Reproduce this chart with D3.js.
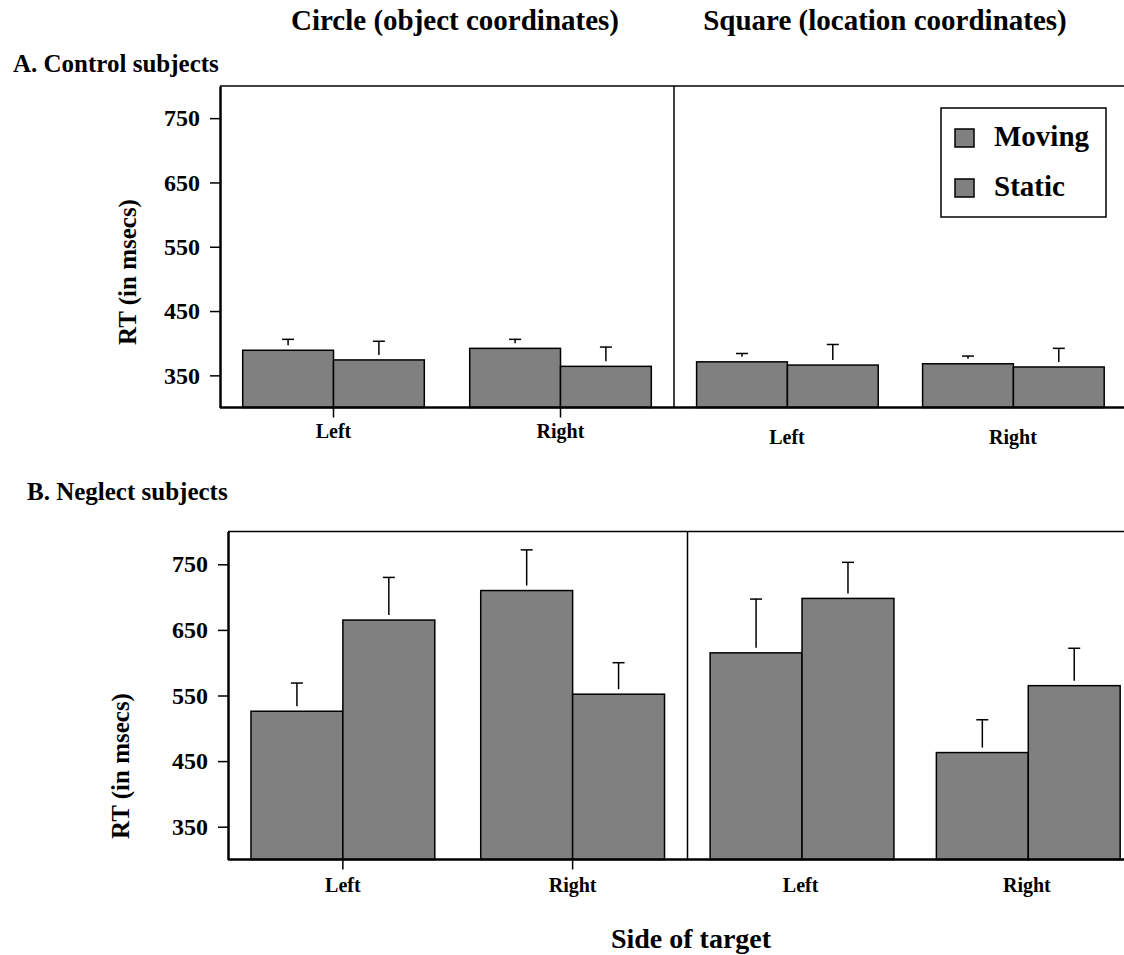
<!DOCTYPE html>
<html>
<head>
<meta charset="utf-8">
<script src="https://cdn.jsdelivr.net/npm/d3@7"></script>
<style>
  body { margin: 0; background: #fff; }
  text { font-family: "Liberation Serif", "Times New Roman", serif; font-weight: bold; fill: #000; }
</style>
</head>
<body>
<div id="chart"></div>
<script>
// data
var sides = ["Left", "Right"];
var conditions = ["Moving", "Static"];
var frames = ["Circle (object coordinates)", "Square (location coordinates)"];
var yTicks = [350, 450, 550, 650, 750];

// order: circle-left, circle-right, square-left, square-right
var controlMoving = [389, 392, 371, 368];
var controlStatic = [374, 364, 366, 363];
var controlMovingErr = [17, 14, 13, 12];
var controlStaticErr = [29, 30, 32, 29];

var neglectMoving = [526, 710, 615, 463];
var neglectStatic = [665, 552, 698, 565];
var neglectMovingErr = [43, 62, 82, 50];
var neglectStaticErr = [65, 48, 55, 57];

var width = 1124, height = 955;

var svg = d3.select("#chart")
    .append("svg")
    .attr("width", width)
    .attr("height", height);

svg.append("rect").attr("width", width).attr("height", height).attr("fill", "#fff");

// column titles
svg.append("text").attr("x", 455).attr("y", 30).attr("text-anchor", "middle")
    .style("font-size", "29px").text(frames[0]);
svg.append("text").attr("x", 885).attr("y", 30).attr("text-anchor", "middle")
    .style("font-size", "29px").text(frames[1]);

var panels = [{
    header: "A. Control subjects", hx: 13, hy: 72,
    top: 86, bottom: 407.5, left: 220, div: 674, right: 1126,
    ylabX: 136, ylabY: 272,
    pad: [6, 22],
    moving: controlMoving, stat: controlStatic,
    movingErr: controlMovingErr, statErr: controlStaticErr
}, {
    header: "B. Neglect subjects", hx: 27, hy: 500,
    top: 531.5, bottom: 859.5, left: 228, div: 687.5, right: 1140,
    ylabX: 129, ylabY: 766,
    pad: [8, 18],
    moving: neglectMoving, stat: neglectStatic,
    movingErr: neglectMovingErr, statErr: neglectStaticErr
}];

panels.forEach(function(p) {
    var g = svg.append("g");

    g.append("text").attr("x", p.hx).attr("y", p.hy)
        .style("font-size", "25px").text(p.header);

    var y = d3.scaleLinear().domain([300, 800]).range([p.bottom, p.top]);

    // build bar rows from the arrays
    var rows = [];
    [0, 1].forEach(function(h) {
        sides.forEach(function(s, i) {
            var k = h * 2 + i;
            rows.push({ half: h, side: s, cond: "Moving", value: p.moving[k], err: p.movingErr[k] });
            rows.push({ half: h, side: s, cond: "Static", value: p.stat[k], err: p.statErr[k] });
        });
    });

    var xs = [0, 1].map(function(h) {
        return d3.scaleBand()
            .domain(sides)
            .range(h === 0 ? [p.left, p.div] : [p.div, p.right])
            .paddingInner(0.2)
            .paddingOuter(0.1);
    });
    var xIn = d3.scaleBand().domain(conditions).range([0, xs[0].bandwidth()]);

    // bars
    g.selectAll("rect.bar")
        .data(rows)
        .enter()
        .append("rect")
        .attr("class", "bar")
        .attr("x", function(d) { return xs[d.half](d.side) + xIn(d.cond); })
        .attr("y", function(d) { return y(d.value); })
        .attr("width", xIn.bandwidth())
        .attr("height", function(d) { return p.bottom - y(d.value); })
        .attr("fill", "#808080")
        .attr("stroke", "#000")
        .attr("stroke-width", 1.5);

    // error bars (upper only)
    var eb = g.selectAll("g.err")
        .data(rows)
        .enter()
        .append("g")
        .attr("class", "err")
        .attr("transform", function(d) {
            return "translate(" + (xs[d.half](d.side) + xIn(d.cond) + xIn.bandwidth() / 2) + ",0)";
        });
    eb.append("line")
        .attr("y1", function(d) { return y(d.value) - 5; })
        .attr("y2", function(d) { return y(d.value + d.err); })
        .attr("stroke", "#000").attr("stroke-width", 1.5);
    eb.append("line")
        .attr("x1", -6).attr("x2", 6)
        .attr("y1", function(d) { return y(d.value + d.err); })
        .attr("y2", function(d) { return y(d.value + d.err); })
        .attr("stroke", "#000").attr("stroke-width", 1.5);

    // frame
    g.append("line").attr("x1", p.left).attr("x2", width)
        .attr("y1", p.top).attr("y2", p.top)
        .attr("stroke", "#000").attr("stroke-width", 1.5);
    g.append("line").attr("x1", p.div).attr("x2", p.div)
        .attr("y1", p.top).attr("y2", p.bottom)
        .attr("stroke", "#000").attr("stroke-width", 1.5);
    g.append("line").attr("x1", p.left).attr("x2", width)
        .attr("y1", p.bottom).attr("y2", p.bottom)
        .attr("stroke", "#000").attr("stroke-width", 2.5);

    // y axis
    var ya = g.append("g")
        .attr("transform", "translate(" + p.left + ",0)")
        .call(d3.axisLeft(y).tickValues(yTicks).tickSize(10).tickPadding(10).tickSizeOuter(0));
    ya.select(".domain").attr("stroke-width", 2.5);
    ya.selectAll(".tick line").attr("stroke-width", 1.5);
    ya.attr("font-family", null).attr("font-size", null);
    ya.selectAll(".tick text").style("font-size", "24px");

    // x axes, one per half
    [0, 1].forEach(function(h) {
        var xa = g.append("g")
            .attr("transform", "translate(0," + p.bottom + ")")
            .call(d3.axisBottom(xs[h]).tickSize(h === 0 ? 10 : 0).tickPadding(p.pad[h]));
        xa.select(".domain").remove();
        xa.selectAll(".tick line").attr("stroke-width", 1.5);
        xa.attr("font-family", null).attr("font-size", null);
        xa.selectAll(".tick text").style("font-size", "20px");
    });

    // y label
    g.append("text")
        .attr("transform", "translate(" + p.ylabX + "," + p.ylabY + ") rotate(-90)")
        .attr("text-anchor", "middle")
        .style("font-size", "25px")
        .text("RT (in msecs)");
});

// legend
var legend = svg.append("g");
legend.append("rect")
    .attr("x", 941).attr("y", 108).attr("width", 165).attr("height", 109)
    .attr("fill", "#fff").attr("stroke", "#000").attr("stroke-width", 1.5);
var li = legend.selectAll("g.item")
    .data(conditions)
    .enter()
    .append("g")
    .attr("class", "item")
    .attr("transform", function(d, i) { return "translate(955," + (129 + i * 50) + ")"; });
li.append("rect")
    .attr("width", 19).attr("height", 18)
    .attr("fill", "#808080").attr("stroke", "#000").attr("stroke-width", 1.5);
li.append("text")
    .attr("x", 39).attr("y", 17)
    .style("font-size", "29px")
    .text(function(d) { return d; });

// x title
svg.append("text").attr("x", 691).attr("y", 948).attr("text-anchor", "middle")
    .style("font-size", "28px").text("Side of target");
</script>
</body>
</html>
